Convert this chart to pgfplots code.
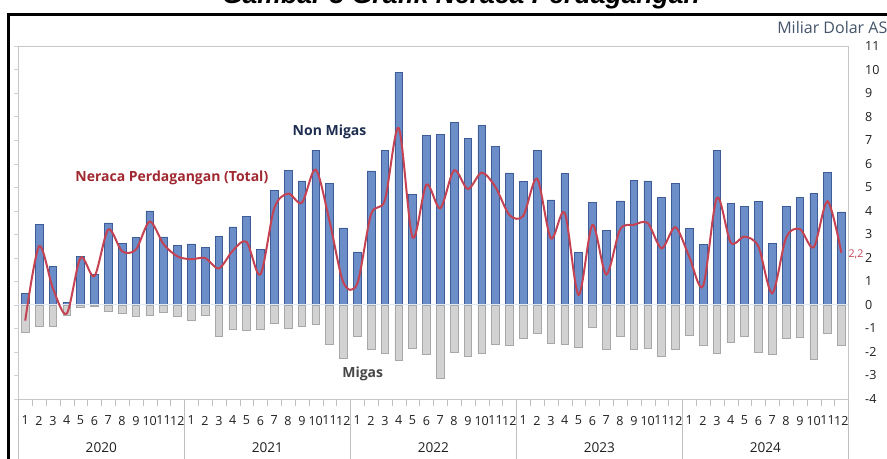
\documentclass[border=0pt]{standalone}
\usepackage{fontspec}
\setmainfont{Open Sans}
\newfontfamily\titlefont{Liberation Sans}
\usepackage{pgfplots}
\pgfplotsset{compat=1.18}
\usepackage{pgfplotstable}

\definecolor{barblue}{RGB}{108,142,200}
\definecolor{barblueedge}{RGB}{62,92,150}
\definecolor{bargray}{RGB}{210,210,210}
\definecolor{bargrayedge}{RGB}{168,168,168}
\definecolor{linered}{RGB}{196,66,82}
\definecolor{navy}{RGB}{30,45,80}
\definecolor{darkred}{RGB}{160,40,48}
\definecolor{unitblue}{RGB}{68,84,106}
\definecolor{zeroline}{RGB}{226,233,245}

\pgfplotstableread{
i nm mg tot
0 0.48 -1.15 -0.67
1 3.41 -0.92 2.49
2 1.63 -0.92 0.71
3 0.10 -0.45 -0.37
4 2.07 -0.11 2.00
5 1.30 -0.08 1.22
6 3.48 -0.28 3.20
7 2.62 -0.34 2.28
8 2.85 -0.50 2.35
9 3.99 -0.45 3.54
10 2.89 -0.31 2.58
11 2.53 -0.47 2.06
12 2.59 -0.65 1.94
13 2.43 -0.44 1.99
14 2.90 -1.35 1.55
15 3.31 -1.06 2.30
16 3.77 -1.09 2.68
17 2.34 -1.05 1.29
18 4.88 -0.78 4.10
19 5.72 -0.99 4.73
20 5.27 -0.93 4.34
21 6.57 -0.82 5.75
22 5.15 -1.67 3.55
23 3.27 -2.28 0.95
24 2.25 -1.32 0.90
25 5.69 -1.90 3.85
26 6.57 -2.05 4.45
27 9.86 -2.35 7.51
28 4.70 -1.84 2.86
29 7.21 -2.10 5.11
30 7.23 -3.13 4.10
31 7.74 -2.02 5.72
32 7.06 -2.17 4.92
33 7.62 -2.05 5.62
34 6.74 -1.68 5.00
35 5.61 -1.74 3.82
36 5.25 -1.42 3.78
37 6.55 -1.19 5.36
38 4.46 -1.64 2.82
39 5.58 -1.67 3.91
40 2.22 -1.81 0.42
41 4.37 -0.96 3.40
42 3.17 -1.88 1.29
43 4.42 -1.32 3.20
44 5.29 -1.90 3.40
45 5.27 -1.84 3.48
46 4.56 -2.18 2.40
47 5.17 -1.88 3.30
48 3.26 -1.29 2.05
49 2.58 -1.74 0.80
50 6.57 -2.04 4.55
51 4.30 -1.61 2.65
52 4.19 -1.32 2.90
53 4.39 -2.00 2.48
54 2.60 -2.11 0.49
55 4.18 -1.42 2.85
56 4.56 -1.36 3.22
57 4.74 -2.31 2.45
58 5.62 -1.22 4.40
59 3.95 -1.74 2.21
}\datatable

\begin{document}
\begin{tikzpicture}
\useasboundingbox (0,0) rectangle (665.25pt,344.25pt);
\node[anchor=base, inner sep=0pt, font={\titlefont\bfseries\itshape\fontsize{19.9}{22}\selectfont}] at (345.75pt,341.25pt) {Gambar 3 Grafik Neraca Perdagangan};
\draw[line width=1.9pt] (6.5pt,-10pt) -- (6.5pt,333.4pt) -- (690pt,333.4pt);
\node[anchor=west, inner sep=0pt, text=unitblue, font={\fontsize{12}{14}\selectfont}] at (582.75pt,323.5pt) {Miliar Dolar AS};
\begin{axis}[
  at={(13.725pt,45pt)}, anchor=south west,
  width=622.5pt, height=264.75pt, scale only axis,
  xmin=-0.5, xmax=59.5, ymin=-4, ymax=11,
  axis line style={draw=black!22},
  ytick={-4,-3,...,11},
  ytick pos=left, yticklabel pos=right,
  xtick pos=bottom,
  xtick={0,1,...,59},
  xticklabels={1,2,3,4,5,6,7,8,9,10,11,12,1,2,3,4,5,6,7,8,9,10,11,12,1,2,3,4,5,6,7,8,9,10,11,12,1,2,3,4,5,6,7,8,9,10,11,12,1,2,3,4,5,6,7,8,9,10,11,12},
  minor xtick={-0.5,0.5,...,59.5},
  major x tick style={draw=none},
  minor x tick style={draw=black!25},
  y tick style={draw=black!18},
  tick align=outside,
  major tick length=3pt,
  minor tick length=5.25pt,
  tick label style={font={\fontsize{9.4}{11}\selectfont}, text=black!88},
  xticklabel style={anchor=north, inner sep=0pt, yshift=-9.5pt},
  yticklabel style={anchor=west, inner sep=0pt, xshift=9.5pt},
  /pgf/number format/assume math mode=true,
  clip=false,
]
\addplot[ybar, bar width=5.8pt, bar shift=0pt, fill=barblue, draw=barblueedge, line width=0.5pt] table[x=i,y=nm]{\datatable};
\addplot[ybar, bar width=5.8pt, bar shift=0pt, fill=bargray, draw=bargrayedge, line width=0.5pt] table[x=i,y=mg]{\datatable};
\draw[draw=zeroline, line width=0.8pt] (axis cs:-0.5,0) -- (axis cs:59.5,0);
\addplot[linered, line width=1.5pt, smooth, tension=0.5, mark=none] table[x=i,y=tot]{\datatable};
\draw[black!25] (axis cs:-0.5,-4) -- ++(0pt,-50pt);
\draw[black!25] (axis cs:11.5,-4) -- ++(0pt,-50pt);
\draw[black!25] (axis cs:23.5,-4) -- ++(0pt,-50pt);
\draw[black!25] (axis cs:35.5,-4) -- ++(0pt,-50pt);
\draw[black!25] (axis cs:47.5,-4) -- ++(0pt,-50pt);
\draw[black!25] (axis cs:59.5,-4) -- ++(0pt,-50pt);
\node[font={\fontsize{10.2}{12}\selectfont}, text=black!88, yshift=-36.4pt] at (axis cs:5.5,-4) {2020};
\node[font={\fontsize{10.2}{12}\selectfont}, text=black!88, yshift=-36.4pt] at (axis cs:17.5,-4) {2021};
\node[font={\fontsize{10.2}{12}\selectfont}, text=black!88, yshift=-36.4pt] at (axis cs:29.5,-4) {2022};
\node[font={\fontsize{10.2}{12}\selectfont}, text=black!88, yshift=-36.4pt] at (axis cs:41.5,-4) {2023};
\node[font={\fontsize{10.2}{12}\selectfont}, text=black!88, yshift=-36.4pt] at (axis cs:53.5,-4) {2024};
\node[font={\bfseries\fontsize{10.5}{12}\selectfont}, text=navy] at (axis cs:22.0,7.37) {Non Migas};
\node[font={\bfseries\fontsize{10.5}{12}\selectfont}, text=darkred] at (axis cs:10.6,5.41) {Neraca Perdagangan (Total)};
\node[font={\bfseries\fontsize{10.5}{12}\selectfont}, text=black!72] at (axis cs:24.4,-2.94) {Migas};
\node[anchor=west, inner sep=0pt, font={\fontsize{8}{9}\selectfont}, text=linered] at (axis cs:59.5,2.15) {2,2};
\end{axis}
\end{tikzpicture}
\end{document}
